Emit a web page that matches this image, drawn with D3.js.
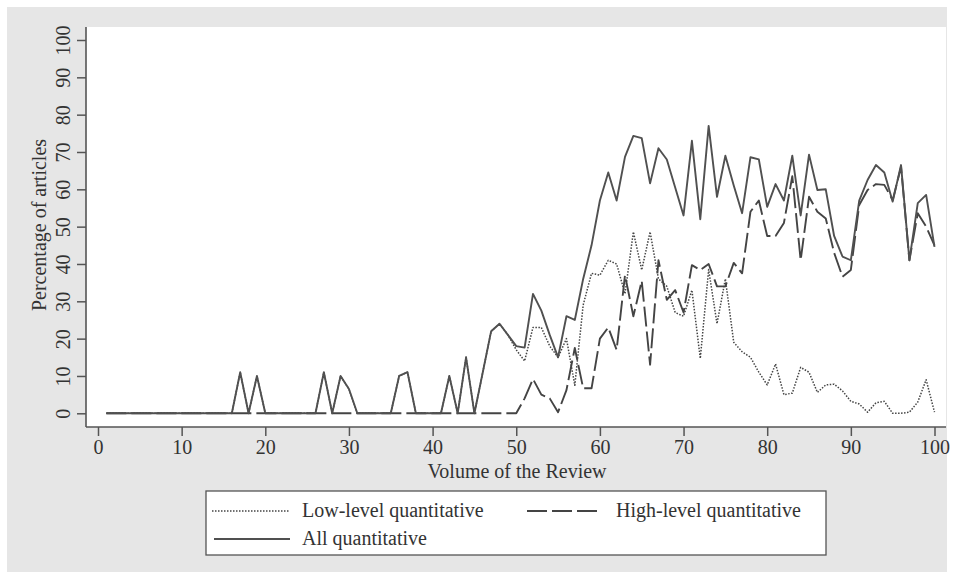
<!DOCTYPE html>
<html>
<head>
<meta charset="utf-8">
<script src="https://cdn.jsdelivr.net/npm/d3@7"></script>
<style>
  body { margin: 0; background: #fff; }
  svg { display: block; font-family: "Liberation Serif", "DejaVu Serif", serif; }
</style>
</head>
<body>
<div id="chart"></div>
<script>
// Volume of the Review (x) and percentage of articles per series (y)
const volumes = [
  1, 2, 3, 4, 5, 6, 7, 8, 9, 10, 11, 12, 13, 14, 15, 16, 17, 18, 19, 20,
  21, 22, 23, 24, 25, 26, 27, 28, 29, 30, 31, 32, 33, 34, 35, 36, 37, 38, 39, 40,
  41, 42, 43, 44, 45, 46, 47, 48, 49, 50, 51, 52, 53, 54, 55, 56, 57, 58, 59, 60,
  61, 62, 63, 64, 65, 66, 67, 68, 69, 70, 71, 72, 73, 74, 75, 76, 77, 78, 79, 80,
  81, 82, 83, 84, 85, 86, 87, 88, 89, 90, 91, 92, 93, 94, 95, 96, 97, 98, 99, 100
];

const lowLevel = [
  0, 0, 0, 0, 0, 0, 0, 0, 0, 0, 0, 0, 0, 0, 0, 0, 11, 0, 10, 0,
  0, 0, 0, 0, 0, 0, 11, 0, 10, 6.5, 0, 0, 0, 0, 0, 10, 11, 0, 0, 0,
  0, 10, 0, 15, 0, 11, 22, 24, 21, 17, 14, 23, 23, 18, 15, 20, 7.5, 29, 37.5, 37,
  41, 40, 32, 48.6, 38.4, 48.6, 36, 34, 27, 26, 33, 14.7, 38.5, 24, 36, 19, 16.5, 15, 11, 7.6,
  13.2, 5, 5.4, 12.3, 11, 5.6, 7.6, 7.8, 6, 3.2, 2.5, 0.3, 2.8, 3.2, 0, 0, 0.3, 3, 9, 0.3
];

const highLevel = [
  0, 0, 0, 0, 0, 0, 0, 0, 0, 0, 0, 0, 0, 0, 0, 0, 0, 0, 0, 0,
  0, 0, 0, 0, 0, 0, 0, 0, 0, 0, 0, 0, 0, 0, 0, 0, 0, 0, 0, 0,
  0, 0, 0, 0, 0, 0, 0, 0, 0, 0, 4, 9.2, 5, 4, 0.3, 6.2, 17.5, 6.7, 6.7, 20,
  23, 17, 37, 26, 35.5, 13, 41, 30.4, 33, 27, 39.7, 38.4, 40, 34, 34, 40.3, 37.5, 54, 57, 47.5,
  47.5, 51, 63.5, 41, 58, 54, 52.2, 43, 36.6, 38.4, 55.8, 59.8, 61.4, 61.2, 57.1, 66, 41, 53.6, 50, 45
];

const allQuant = [
  0, 0, 0, 0, 0, 0, 0, 0, 0, 0, 0, 0, 0, 0, 0, 0, 11, 0, 10, 0,
  0, 0, 0, 0, 0, 0, 11, 0, 10, 6.5, 0, 0, 0, 0, 0, 10, 11, 0, 0, 0,
  0, 10, 0, 15, 0, 11, 22, 24, 21, 18, 17.6, 32, 27.5, 21, 15, 26, 25, 36, 45, 57,
  64.5, 57, 68.7, 74.3, 73.7, 61.6, 71, 68, 60.5, 53, 73, 52, 77, 58, 69, 61, 53.6, 68.6, 68, 55.3,
  61.4, 57, 69, 53, 69.3, 59.8, 60, 47.5, 42, 41, 57, 62.5, 66.5, 64.5, 56.7, 66.5, 41, 56.3, 58.5, 44.6
];

const xTicks = [0, 10, 20, 30, 40, 50, 60, 70, 80, 90, 100];
const yTicks = [0, 10, 20, 30, 40, 50, 60, 70, 80, 90, 100];

const series = [
  { name: "Low-level quantitative", values: lowLevel, color: "#444", width: 1.5, dash: "1.5,1.5" },
  { name: "High-level quantitative", values: highLevel, color: "#444", width: 1.9, dash: "20,5" },
  { name: "All quantitative", values: allQuant, color: "#505050", width: 1.9, dash: null }
];

const width = 954;
const height = 579;
const fontSize = 20;

const svg = d3.select("#chart").append("svg")
    .attr("width", width)
    .attr("height", height);

// outer grey panel and white plot region
svg.append("rect")
    .attr("x", 7).attr("y", 7)
    .attr("width", 940).attr("height", 565)
    .attr("fill", "#e6e6e6");

svg.append("rect")
    .attr("x", 86).attr("y", 27)
    .attr("width", 860).attr("height", 400)
    .attr("fill", "#fff");

const x = d3.scaleLinear().domain([0, 100]).range([98, 934.5]);
const y = d3.scaleLinear().domain([0, 100]).range([413.3, 40]);

const textColor = "#333";
const axisColor = "#555";

// x axis
const gx = svg.append("g")
    .attr("transform", "translate(0,427)")
    .call(d3.axisBottom(x).tickValues(xTicks).tickSize(9).tickPadding(4));
gx.select(".domain").remove();
gx.selectAll(".tick line").attr("stroke", axisColor).attr("stroke-width", 1.5);
gx.selectAll(".tick text")
    .attr("fill", textColor)
    .attr("font-size", fontSize)
    .attr("font-family", "Liberation Serif");

svg.append("line")
    .attr("x1", 86).attr("x2", 946)
    .attr("y1", 427).attr("y2", 427)
    .attr("stroke", axisColor).attr("stroke-width", 1.6);

// y axis, labels rotated as in the original
const gy = svg.append("g")
    .attr("transform", "translate(86,0)")
    .call(d3.axisLeft(y).tickValues(yTicks).tickSize(9));
gy.select(".domain").remove();
gy.selectAll(".tick line").attr("stroke", axisColor).attr("stroke-width", 1.5);
gy.selectAll(".tick text")
    .attr("fill", textColor)
    .attr("font-size", fontSize)
    .attr("font-family", "Liberation Serif")
    .attr("text-anchor", "middle")
    .attr("transform", "rotate(-90)")
    .attr("x", 0)
    .attr("y", -16)
    .attr("dy", null);

svg.append("line")
    .attr("x1", 86).attr("x2", 86)
    .attr("y1", 27).attr("y2", 427)
    .attr("stroke", axisColor).attr("stroke-width", 1.6);

// axis titles
svg.append("text")
    .attr("transform", "translate(46,225) rotate(-90)")
    .attr("text-anchor", "middle")
    .attr("font-size", fontSize)
    .attr("fill", textColor)
    .text("Percentage of articles");

svg.append("text")
    .attr("x", 517).attr("y", 478)
    .attr("text-anchor", "middle")
    .attr("font-size", fontSize)
    .attr("fill", textColor)
    .text("Volume of the Review");

// lines
const line = d3.line()
    .x((d, i) => x(volumes[i]))
    .y(d => y(d));

svg.append("g")
    .attr("fill", "none")
    .attr("stroke-linejoin", "round")
    .selectAll("path")
    .data(series)
    .join("path")
    .attr("d", d => line(d.values))
    .attr("stroke", d => d.color)
    .attr("stroke-width", d => d.width)
    .attr("stroke-dasharray", d => d.dash);

// legend
const legend = svg.append("g");
legend.append("rect")
    .attr("x", 206).attr("y", 491)
    .attr("width", 620).attr("height", 64)
    .attr("fill", "#fff")
    .attr("stroke", "#555")
    .attr("stroke-width", 1.3);

const legendPos = [
  { x1: 212, x2: 290, tx: 302, ty: 511 },
  { x1: 527, x2: 600, tx: 616, ty: 511 },
  { x1: 214, x2: 290, tx: 302, ty: 539 }
];

series.forEach((s, i) => {
  const p = legendPos[i];
  legend.append("line")
      .attr("x1", p.x1).attr("x2", p.x2)
      .attr("y1", p.ty).attr("y2", p.ty)
      .attr("stroke", s.color)
      .attr("stroke-width", s.width)
      .attr("stroke-dasharray", s.dash);
  legend.append("text")
      .attr("x", p.tx).attr("y", p.ty)
      .attr("dy", "0.32em")
      .attr("font-size", fontSize)
      .attr("fill", textColor)
      .text(s.name);
});
</script>
</body>
</html>
